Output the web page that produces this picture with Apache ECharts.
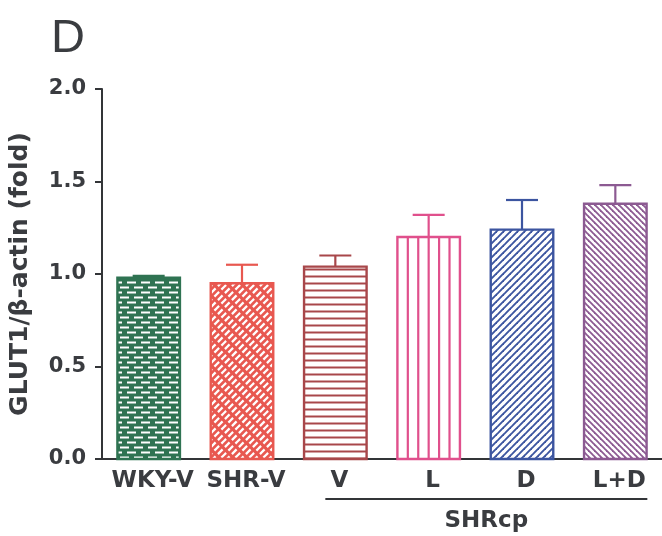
<!DOCTYPE html>
<html>
<head>
<meta charset="utf-8">
<script src="https://cdn.jsdelivr.net/npm/echarts@6/dist/echarts.min.js"></script>
<style>
  html, body { margin: 0; padding: 0; background: #ffffff; }
  #chart { width: 662px; height: 536px; }
</style>
</head>
<body>
<div id="chart"></div>
<script>
// Groups on the x axis and their GLUT1/β-actin ratios (mean and upper SEM)
const categories = ['WKY-V', 'SHR-V', 'V', 'L', 'D', 'L+D'];
const means = [0.98, 0.95, 1.04, 1.20, 1.24, 1.38];
const sem = [0.01, 0.10, 0.06, 0.12, 0.16, 0.10];
const yTicks = [0.0, 0.5, 1.0, 1.5, 2.0];
const groupName = 'SHRcp';
const groupMembers = ['V', 'L', 'D', 'L+D'];

const barColors = ['#2f7352', '#e85850', '#a8474a', '#e0508c', '#3c55a0', '#8c5a92'];
const textColor = '#3a3c40';
const fontFamily = '"DejaVu Sans", "Liberation Sans", sans-serif';

function tile(w, h, draw) {
  const c = document.createElement('canvas');
  c.width = w; c.height = h;
  draw(c.getContext('2d'), w, h);
  return { image: c, repeat: 'repeat' };
}

// Fill patterns, one per bar
const fills = [
  // brick: white dashes on green
  tile(14, 10, (g) => {
    g.fillStyle = barColors[0]; g.fillRect(0, 0, 14, 10);
    g.fillStyle = '#ffffff';
    g.fillRect(1, 1.5, 9, 2);
    g.fillRect(8, 6.5, 9, 2);
    g.fillRect(-6, 6.5, 9, 2);
  }),
  // diagonal brick: white dashes on red
  tile(14, 14, (g) => {
    g.fillStyle = barColors[1]; g.fillRect(0, 0, 14, 14);
    g.strokeStyle = '#ffffff'; g.lineWidth = 2.2;
    for (let c = -28; c <= 56; c += 7) {
      const off = (((c / 7) % 2) + 2) % 2 * 3.5;
      for (let x = -28; x <= 42; x += 7) {
        const xs = x + off + 0.9, xe = x + off + 5.6;
        g.beginPath(); g.moveTo(xs, c - xs); g.lineTo(xe, c - xe); g.stroke();
      }
    }
  }),
  // horizontal lines
  tile(7, 7, (g) => {
    g.fillStyle = '#ffffff'; g.fillRect(0, 0, 7, 7);
    g.strokeStyle = barColors[2]; g.lineWidth = 2;
    g.beginPath(); g.moveTo(0, 3.5); g.lineTo(7, 3.5); g.stroke();
  }),
  // vertical stripes are drawn per bar in renderItem
  '#ffffff',
  // forward diagonal
  tile(7, 7, (g) => {
    g.fillStyle = '#ffffff'; g.fillRect(0, 0, 7, 7);
    g.strokeStyle = barColors[4]; g.lineWidth = 1.9;
    for (const c of [0, 7, 14]) {
      g.beginPath(); g.moveTo(c + 1, -1); g.lineTo(c - 8, 8); g.stroke();
    }
  }),
  // backward diagonal
  tile(6, 6, (g) => {
    g.fillStyle = '#ffffff'; g.fillRect(0, 0, 6, 6);
    g.strokeStyle = barColors[5]; g.lineWidth = 1.8;
    for (const c of [-6, 0, 6]) {
      g.beginPath(); g.moveTo(-1, c - 1); g.lineTo(7, c + 7); g.stroke();
    }
  })
];

const seriesData = categories.map((c, i) => [i, means[i], means[i] + sem[i]]);

function renderBar(params, api) {
  const i = api.value(0);
  const top = api.coord([i, api.value(1)]);
  const base = api.coord([i, 0]);
  const errTop = api.coord([i, api.value(2)]);
  const bw = api.size([1, 0])[0] * 0.67;
  const x0 = top[0] - bw / 2;
  const color = barColors[i];
  const lw = 2.4;
  const children = [];
  // upper error bar
  children.push({
    type: 'line',
    shape: { x1: top[0], y1: top[1], x2: errTop[0], y2: errTop[1] },
    style: { stroke: color, lineWidth: 2.2 }
  });
  children.push({
    type: 'line',
    shape: { x1: top[0] - 16, y1: errTop[1], x2: top[0] + 16, y2: errTop[1] },
    style: { stroke: color, lineWidth: 2.2 }
  });
  children.push({
    type: 'rect',
    shape: { x: x0, y: top[1], width: bw, height: base[1] - top[1] },
    style: { fill: fills[i], stroke: color, lineWidth: lw }
  });
  if (categories[i] === 'L') {
    for (let k = 1; k < 6; k++) {
      const x = x0 + bw * k / 6;
      children.push({
        type: 'line',
        shape: { x1: x, y1: top[1], x2: x, y2: base[1] },
        style: { stroke: color, lineWidth: 2.2 }
      });
    }
  }
  return { type: 'group', children };
}

const chart = echarts.init(document.getElementById('chart'), null, { renderer: 'canvas' });

chart.setOption({
  animation: false,
  backgroundColor: '#ffffff',
  grid: { left: 101, top: 89, width: 562, height: 370, containLabel: false },
  xAxis: {
    type: 'category',
    data: categories,
    axisLine: { show: true, lineStyle: { color: '#333538', width: 2 } },
    axisTick: { show: false },
    axisLabel: {
      interval: 0, hideOverlap: false,
      color: textColor, fontFamily, fontWeight: 'bold', fontSize: 23, margin: 11,
      padding: [0, 0, 0, 8]
    },
    splitLine: { show: false }
  },
  yAxis: {
    type: 'value',
    min: yTicks[0],
    max: yTicks[yTicks.length - 1],
    interval: yTicks[1] - yTicks[0],
    name: 'GLUT1/β-actin (fold)',
    nameLocation: 'middle',
    nameRotate: 90,
    nameGap: 69,
    nameTextStyle: { color: textColor, fontFamily, fontWeight: 'bold', fontSize: 25 },
    axisLine: { show: true, lineStyle: { color: '#333538', width: 2 } },
    axisTick: { show: true, inside: false, length: 7, lineStyle: { color: '#333538', width: 2 } },
    axisLabel: {
      color: textColor, fontFamily, fontWeight: 'bold', fontSize: 21, margin: 16,
      formatter: (v) => v.toFixed(1)
    },
    splitLine: { show: false }
  },
  series: [{
    type: 'custom',
    renderItem: renderBar,
    data: seriesData,
    encode: { x: 0, y: [1, 2] },
    clip: false
  }]
});

// Bracket and name for the SHRcp treatment groups
const firstIdx = categories.indexOf(groupMembers[0]);
const lastIdx = categories.indexOf(groupMembers[groupMembers.length - 1]);
const xFirst = chart.convertToPixel({ xAxisIndex: 0 }, firstIdx);
const xLast = chart.convertToPixel({ xAxisIndex: 0 }, lastIdx);
const lineL = xFirst - 10, lineR = xLast + 32;

chart.setOption({
  graphic: [
    {
      type: 'text', left: 51, top: 16,
      style: { text: 'D', font: 'normal 47px "Liberation Sans", Arial, sans-serif', fill: textColor }
    },
    {
      type: 'line',
      shape: { x1: lineL, y1: 499, x2: lineR, y2: 499 },
      style: { stroke: '#333538', lineWidth: 2 }
    },
    {
      type: 'text', x: (lineL + lineR) / 2, y: 521,
      style: {
        text: groupName, fill: textColor,
        font: 'bold 23px ' + fontFamily, textAlign: 'center', textVerticalAlign: 'middle'
      }
    }
  ]
});
</script>
</body>
</html>
